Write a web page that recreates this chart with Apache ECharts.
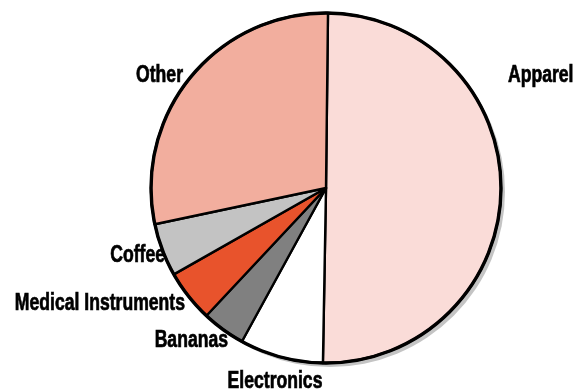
<!DOCTYPE html>
<html>
<head>
<meta charset="utf-8">
<script src="https://cdn.jsdelivr.net/npm/echarts@6/dist/echarts.min.js"></script>
<style>
  html, body { margin: 0; padding: 0; background: #ffffff; }
  #chart { width: 576px; height: 391px; }
</style>
</head>
<body>
<div id="chart"></div>
<script>
// Share of shipments by product category (percent), clockwise from the top
const categories = ['Apparel', 'Electronics', 'Bananas', 'Medical Instruments', 'Coffee', 'Other'];
const shares = [50.1, 7.7, 4.0, 4.8, 4.9, 28.5];
const sliceColors = ['#fadcd8', '#ffffff', '#808080', '#e8532c', '#c3c3c3', '#f2ae9e'];

const CX = 326, CY = 188, R = 175;
const LABEL_FONT = "bold 23px 'Liberation Sans', Arial, sans-serif";
const LABEL_SQUEEZE = 0.765; // narrow, condensed look for the category names

// Where each category name sits next to its slice: anchor point and alignment
const labelPlacement = [
  { x: 508, y: 76,  align: 'left'   },
  { x: 275, y: 382, align: 'center' },
  { x: 228, y: 341, align: 'right'  },
  { x: 185, y: 304, align: 'right'  },
  { x: 165, y: 256, align: 'right'  },
  { x: 183, y: 76,  align: 'right'  }
];

const chart = echarts.init(document.getElementById('chart'), null, { renderer: 'canvas' });

const nameTexts = categories.map((name, i) => {
  const p = labelPlacement[i];
  return {
    type: 'text',
    x: p.x,
    y: p.y,
    scaleX: LABEL_SQUEEZE,
    silent: true,
    z: 10,
    style: {
      text: name,
      font: LABEL_FONT,
      fill: '#000000',
      stroke: '#000000',
      lineWidth: 0.7,
      textAlign: p.align,
      textVerticalAlign: 'middle'
    }
  };
});

chart.setOption({
  animation: false,
  backgroundColor: '#ffffff',
  graphic: { elements: nameTexts },
  series: [
    {
      // drop shadow disc behind the pie
      type: 'pie',
      silent: true,
      center: [CX + 4, CY + 4],
      radius: [0, R],
      label: { show: false },
      labelLine: { show: false },
      itemStyle: { color: '#c4c4c4', borderWidth: 0 },
      data: [{ value: 1, name: '' }],
      z: 1
    },
    {
      type: 'pie',
      center: [CX, CY],
      radius: [0, R],
      startAngle: 89.35,
      clockwise: true,
      label: { show: false },
      labelLine: { show: false },
      itemStyle: { borderColor: '#000000', borderWidth: 2.4 },
      emphasis: { disabled: true },
      data: categories.map((name, i) => ({
        name: name,
        value: shares[i],
        itemStyle: { color: sliceColors[i] }
      })),
      z: 2
    },
    {
      // heavier outline around the rim
      type: 'pie',
      silent: true,
      center: [CX, CY],
      radius: [0, R],
      label: { show: false },
      labelLine: { show: false },
      itemStyle: { color: 'rgba(0,0,0,0)', borderColor: '#000000', borderWidth: 3.4 },
      data: [{ value: 1, name: '' }],
      z: 3
    }
  ]
});
</script>
</body>
</html>
